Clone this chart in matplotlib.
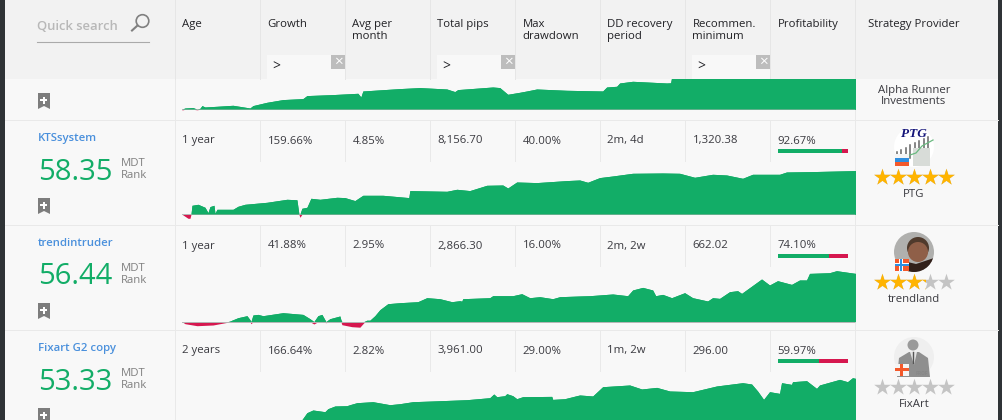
import matplotlib
matplotlib.use('Agg')
import matplotlib.pyplot as plt
from matplotlib.patches import Rectangle, Circle, Polygon
import numpy as np

plt.rcParams['font.family'] = ['Open Sans', 'DejaVu Sans']

W, H = 1003, 420

# table values
headers = ['Age', 'Growth', 'Avg per\nmonth', 'Total pips', 'Max\ndrawdown',
           'DD recovery\nperiod', 'Recommen.\nminimum', 'Profitability', 'Strategy Provider']
names = ['KTSsystem', 'trendintruder', 'Fixart G2 copy']
scores = ['58.35', '56.44', '53.33']
ages = ['1 year', '1 year', '2 years']
growth = ['159.66%', '41.88%', '166.64%']
avg_month = ['4.85%', '2.95%', '2.82%']
total_pips = ['8,156.70', '2,866.30', '3,961.00']
max_dd = ['40.00%', '16.00%', '29.00%']
recovery = ['2m, 4d', '2m, 2w', '1m, 2w']
minimum = ['1,320.38', '662.02', '296.00']
profit = [92.67, 74.10, 59.97]
providers = ['PTG', 'trendland', 'FixArt']
ratings = [5, 3.2, 0]

# equity curves
alpha_t = [0, 3, 11, 15, 18, 20, 23, 35, 51, 68, 71, 85, 101, 121, 125, 151, 176, 179, 181, 218, 238,
           265, 273, 276, 311, 318, 326, 338, 345, 355, 385, 421, 425, 435, 438, 451, 485, 489, 490, 560, 620, 674]
alpha_v = [-0.7, 1.3, 1.7, -0.5, 1, 3.7, 2.3, 3, 4, 1.3, 3.7, 7, 9.7, 10.7, 13.7, 14.7, 16, 12.3, 18.3, 20.7, 21.7,
           20.3, 17.7, 19.7, 22.3, 21.7, 15, 17, 18.3, 20.3, 19, 18.3, 22.3, 23, 26.3, 28, 26.3, 26.5, 32, 36, 40, 44]

kts_t = [0, 3, 6, 8, 9, 10, 16, 23, 26, 28, 32, 33, 35, 51, 56, 63, 85, 105, 115, 117, 118, 120, 125, 129, 138,
         155, 163, 173, 181, 201, 227, 228, 265, 275, 288, 305, 321, 326, 335, 355, 385, 398, 406, 418, 431, 451,
         481, 498, 513, 531, 545, 561, 571, 598, 605, 631, 674]
kts_v = [0, -2, -4, -4, 0, 9, 10, 7, 1.7, 7.7, 9, 1, 5, 5, 8, 10, 12, 15, 14.5, 0.3, -3, 6, 7, 16, 15,
         17, 16.7, 13.7, 19, 19, 16.7, 23.7, 23, 25, 23.7, 29, 29.3, 26.3, 32.3, 31.7, 33.7, 34.3, 32, 36.7, 38.3, 41,
         41.3, 41, 37, 40, 39.3, 36, 40, 40, 42.3, 42.7, 43.7]

trend_t = [0, 3, 15, 31, 46, 48, 56, 65, 68, 69, 71, 76, 81, 101, 121, 128, 132, 136, 140, 144, 148, 158, 159, 160,
           170, 178, 182, 185, 188, 193, 198, 206, 218, 236, 245, 258, 270, 278, 280, 281, 308, 311, 331, 340, 348,
           358, 371, 378, 398, 408, 431, 446, 451, 461, 471, 474, 481, 490, 503, 511, 526, 531, 538, 548, 556, 560,
           580, 588, 596, 610, 618, 625, 628, 648, 655, 674]
trend_v = [0, -2, -4, -3.3, -0.5, 0.7, 4, 6, 2, -2, 6.7, 7.3, 6, 9, 7.3, 3, -2.3, 6, 7.3, -1, 3, 5.7, 2, -3,
           -5, -5.5, -1, 1.5, 1.5, 6, 12, 18, 19, 20, 24, 23, 20, 21, 20.5, 23, 24, 26, 26, 28, 24,
           25, 23, 25, 25.7, 26, 27.7, 26, 31.7, 34.3, 31.7, 26, 27.3, 24, 29, 24, 20.7, 24, 23.3, 30, 31, 28.3,
           42.7, 36.7, 41, 37.3, 41.7, 41.7, 48.3, 49, 51, 48.3]

fixart_t = [0, 48, 55, 115, 120, 125, 131, 143, 146, 153, 165, 168, 175, 191, 208, 218, 231, 251, 285, 308, 312,
            315, 323, 325, 331, 335, 341, 370, 371, 383, 395, 398, 411, 421, 448, 460, 475, 488, 511, 535, 561, 570,
            576, 582, 588, 598, 600, 610, 611, 625, 635, 638, 658, 666, 671, 674]
fixart_v = [0, 4, 6.9, 6.9, 7, 14, 16.7, 15, 18, 20.7, 21, 22, 24, 25, 22, 23, 25, 25.7, 27, 29, 32.7,
            30, 31, 33, 31, 28, 30, 30.3, 27.3, 28, 31, 31.7, 30.7, 40, 41.7, 37.7, 39.3, 35.7, 35, 40.7, 44, 42.7,
            35.7, 27.3, 35, 33.3, 44, 42.3, 45, 46, 38.3, 41.7, 47.3, 45, 49, 48.3]

GREEN = '#12ad67'
RED = '#d6174f'
LINE = '#e9e9e9'
TXT = '#3a3a40'
COLS = [175.5, 260.5, 345.5, 430.5, 515.5, 600.5, 685.5, 770.5, 855.5]
ROWS = [120, 225, 330]

fig = plt.figure(figsize=(W / 100, H / 100), dpi=100, facecolor='#2f3336')
ax = fig.add_axes([0, 0, 1, 1])
ax.set_xlim(0, W)
ax.set_ylim(H, 0)
ax.axis('off')


def box(x0, y0, x1, y1, color, z=1):
    ax.add_patch(Rectangle((x0, y0), x1 - x0, y1 - y0, fc=color, ec='none', zorder=z))


def label(x, y, s, size=8.2, color=TXT, **kw):
    kw.setdefault('va', 'center')
    ax.text(x, y + 1.5, s, fontsize=size, color=color, zorder=6, **kw)


def equity(t, v, top, bottom, base):
    # one small axes per curve, y units are pixels above the zero line
    a = fig.add_axes([182 / W, 1 - bottom / H, 673.5 / W, (bottom - top) / H])
    a.set_xlim(0, 674)
    a.set_ylim(base - bottom, base - top)
    a.axis('off')
    t = np.array(t, dtype=float)
    v = np.array(v, dtype=float)
    a.fill_between(t, 0, np.clip(v, 0, None), color=GREEN, lw=0)
    a.fill_between(t, 0, np.clip(v, None, 0), color=RED, lw=0)
    a.plot([0, 674], [0, 0], color='#b5b5b5', lw=0.7, zorder=1)
    a.fill_between(t, 0.3, np.clip(v, 0.3, None), color=GREEN, lw=0, zorder=2)


def bookmark(y):
    ax.add_patch(Polygon([(38, y), (50, y), (50, y + 16), (44, y + 13), (38, y + 16)],
                         fc='#7d7d7d', ec='none', zorder=4))
    box(43, y + 3.5, 45, y + 10.5, 'white', 5)
    box(40.5, y + 6, 47.5, y + 8, 'white', 5)


def flag(kind, y):
    x0, x1 = 895, 909
    y0, y1 = y, y + 12
    if kind == 0:
        box(x0, y0, x1, y0 + 4, '#f5f5f5', 5)
        box(x0, y0 + 4, x1, y0 + 8, '#2f8fe0', 5)
        box(x0, y0 + 8, x1, y1, '#f4592b', 5)
    elif kind == 1:
        box(x0, y0, x1, y1, '#f4592b', 5)
        box(x0 + 4, y0, x0 + 8, y1, 'white', 5)
        box(x0, y0 + 4.5, x1, y0 + 7.5, 'white', 5)
        box(x0 + 5, y0, x0 + 7, y1, '#2f8fe0', 5)
        box(x0, y0 + 5, x1, y0 + 7, '#2f8fe0', 5)
    else:
        box(x0, y0, x1, y1, '#f5f5f5', 5)
        box(x0 + 5.5, y0, x0 + 8.5, y1, '#f4592b', 5)
        box(x0, y0 + 4.5, x1, y0 + 7.5, '#f4592b', 5)


def avatar(kind, y):
    cx, cy, r = 914, y + 27, 20
    clip = Circle((cx, cy), r, transform=ax.transData)
    if kind == 0:
        ax.add_patch(Circle((cx, cy), r, fc='white', ec='none', zorder=3))
        for i, bx in enumerate(np.arange(897, 932, 4.5)):
            h = 6 + i * 2.2
            ax.plot([bx, bx], [cy + 11 - h, cy + 11], color='#666666', lw=1.1, zorder=3)
        box(913, cy + 1, 930, cy + 19, '#d8dcd8', 3)
        ax.plot([907, 916, 922, 933], [cy + 9, cy + 6, cy - 1, cy - 7], color='#69b97f', lw=0.9, zorder=4)
        ax.text(914, cy - 13, 'PTG', fontsize=9.5, color='#15157a', family='Liberation Serif',
                style='italic', weight='bold', ha='center', va='center', zorder=5)
    elif kind == 1:
        ax.add_patch(Circle((cx, cy), r, fc='#b0b0ae', ec='none', zorder=3))
        body = Polygon([(894, y + 50), (899, cy + 8), (916, cy + 12), (934, cy + 6), (934, y + 50)],
                       fc='#31201a', ec='none', zorder=3)
        hair = Circle((cx + 4, cy - 4), 11, fc='#4f3a2c', ec='none', zorder=3)
        face = Circle((cx + 4, cy + 0), 10, fc='#8f5f48', ec='none', zorder=3)
        for q in (body, hair, face):
            ax.add_patch(q)
            q.set_clip_path(clip)
    else:
        ax.add_patch(Circle((cx, cy), r, fc='#efefef', ec='none', zorder=3))
        body = Polygon([(897, y + 47), (899, cy + 1), (909, cy - 5), (919, cy - 5), (928, cy + 1), (930, y + 47)],
                       fc='#8f8f8f', ec='none', zorder=3)
        ax.add_patch(body)
        ax.add_patch(Circle((cx - 1, cy - 12), 5.5, fc='#9a9a9a', ec='none', zorder=3))
        ax.add_patch(Polygon([(910, cy - 5), (917, cy - 5), (914, cy + 8)], fc='#e4e4e4', ec='none', zorder=3))
        ax.plot([913.5, 913.5], [cy - 5, cy + 6], color='#555555', lw=1, zorder=3)
        label(922, y + 42, 'PROF', size=3.5, color='#888888', ha='center', weight='bold')
    flag(kind, y + 33.5)


def stars(rating, y):
    xs = 881.7 + 16.2 * np.arange(5)
    ax.scatter(xs, [y] * 5, marker='*', s=160, c='#c4c4c4', lw=0, zorder=4)
    gold = ax.scatter(xs, [y] * 5, marker='*', s=160, c='#ffb400', lw=0, zorder=5)
    gold.set_clip_path(Rectangle((860, y - 20), rating * 16.2 + 13.5, 40, transform=ax.transData))


# background
box(5, 0, 998, H, '#f8f8f8', 0)

# top partial row
equity(alpha_t, alpha_v, 79, 120, 109.3)
bookmark(93)
label(914, 88.5, 'Alpha Runner', ha='center')
label(914, 100.5, 'Investments', ha='center')

# rows
for i, top in enumerate(ROWS):
    ax.plot([5, 998], [top, top], color=LINE, lw=0.72, zorder=2)
    cells = [ages[i], growth[i], avg_month[i], total_pips[i], max_dd[i], recovery[i], minimum[i]]
    for j, s in enumerate(cells):
        label(COLS[j] + 7, top + 19.5, s)
    label(COLS[7] + 7, top + 19.5, '%.2f%%' % profit[i])
    for c in COLS[1:8]:
        ax.plot([c, c], [top, top + 41], color=LINE, lw=0.72, zorder=2)
    # profitability bar
    box(778, top + 29, 848, top + 33, RED, 3)
    box(778, top + 29, 778 + 70 * profit[i] / 100 - 1, top + 33, GREEN, 4)
    # left column
    label(38, top + 16.5, names[i], size=8.2, color='#4a90dc', weight='semibold')
    ax.text(38.5, top + 52, scores[i], fontsize=21, color=GREEN, family='Open Sans',
            va='center', zorder=6)
    label(121, top + 42, 'MDT', size=8.2, color='#808080')
    label(121, top + 54, 'Rank', size=8.2, color='#808080')
    bookmark(top + 78)
    # provider
    avatar(i, top)
    stars(ratings[i], top + 56.5)
    label(914, top + 73, providers[i], ha='center')

equity(kts_t, kts_v, 162, 225, 214.3)
equity(trend_t, trend_v, 267, 330, 321.7)
equity(fixart_t, fixart_v, 372, 420, 426.7)

# column rules running the whole height
for c in (COLS[0], COLS[8]):
    ax.plot([c, c], [79, H], color=LINE, lw=0.72, zorder=2)

# header
box(5, 0, 998, 79, '#f2f2f2', 3)
for c in COLS:
    ax.plot([c, c], [0, 79], color='#e6e6e6', lw=0.72, zorder=3)
for j, s in enumerate(headers):
    x = COLS[j] + 7 if j < 8 else 868
    lines = s.split('\n')
    for k, part in enumerate(lines):
        label(x, 23 + 12 * k, part, color='#222226')

# filter boxes
for c in (COLS[1], COLS[3], COLS[6]):
    box(c + 6.5, 55, c + 84.5, 79, '#f8f8f8', 4)
    box(c + 70.5, 55, c + 84.5, 69, '#bdbdbd', 5)
    label(c + 77.5, 60.5, '\u00d7', size=11, color='white', ha='center')
    label(c + 12, 66, '>', size=10, color='#222226')

# search
label(37, 24.5, 'Quick search', size=9.4, color='#b8b8b8', weight='semibold')
ax.plot([37, 149], [41.5, 41.5], color='#aaaaaa', lw=0.8, zorder=6)
ax.add_patch(Circle((142.5, 21), 6.3, fc='none', ec='#808080', lw=1.2, zorder=6))
ax.plot([137.5, 132], [25.5, 30.5], color='#808080', lw=1.5, zorder=6)

fig.savefig('out.png', dpi=100, facecolor=fig.get_facecolor())
